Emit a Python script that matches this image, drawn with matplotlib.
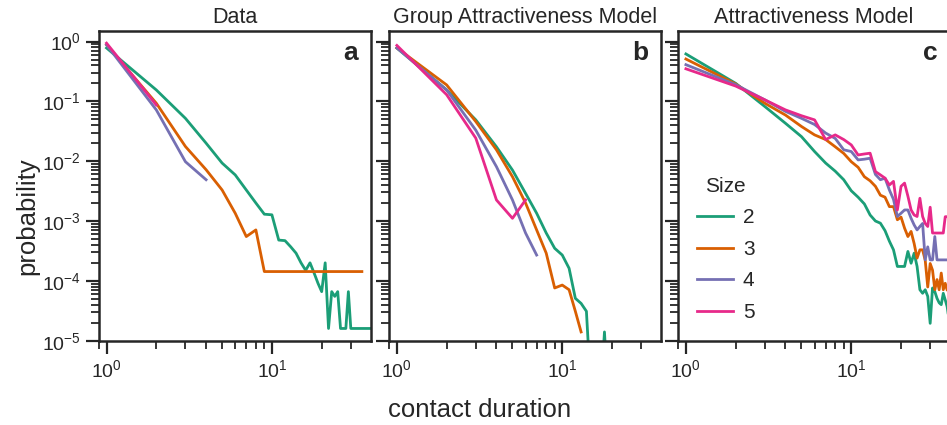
import matplotlib
matplotlib.use('Agg')
import matplotlib.pyplot as plt
from matplotlib.ticker import LogLocator, NullFormatter

plt.rcParams['font.family'] = ['Liberation Sans', 'DejaVu Sans']
plt.rcParams['text.color'] = '#262626'
plt.rcParams['axes.edgecolor'] = '#262626'
plt.rcParams['xtick.color'] = '#262626'
plt.rcParams['ytick.color'] = '#262626'

# group sizes and colours
sizes = [2, 3, 4, 5]
colors = ['#1b9e77', '#d95f02', '#7570b3', '#e7298a']

# panel a: data
data_2 = [0.78, 0.155, 0.052, 0.020, 0.0093, 0.0059, 0.0033, 0.0020, 0.0013, 0.00127,
          0.00048, 0.00047, 0.00037, 0.00029, 0.00020, 0.00015, 0.00020, 0.000135, 0.000091, 0.000066,
          0.00020, 1.6e-5, 6.6e-5, 5.5e-5, 6.6e-5, 1.6e-5, 1.6e-5, 1.6e-5, 6.6e-5, 1.6e-5,
          1.6e-5, 1.6e-5, 1.6e-5, 1.6e-5, 1.6e-5, 1.6e-5, 1.6e-5, 1.6e-5, 1.6e-5]
data_3 = [0.88, 0.093, 0.0176, 0.0072, 0.0033, 0.00135, 0.00055, 0.00071] + [0.000143] * 27
data_4 = [0.88, 0.072, 0.0098, 0.0049]
data_5 = [0.94, 0.087]

# panel b: group attractiveness model
gam_2 = [0.78, 0.155, 0.049, 0.0174, 0.0071, 0.0029, 0.00135, 0.00063, 0.00035, 0.00027,
         0.000162, 5.1e-5, 4.2e-5, 3.1e-5, 1e-6, 1e-6, 1e-6, 1.4e-5, 1e-6]
gam_3 = [0.78, 0.188, 0.046, 0.0155, 0.0055, 0.002, 0.00071, 0.00029, 7.6e-5, 8.5e-5,
         7.1e-5, 3.1e-5, 1.4e-5]
gam_4 = [0.78, 0.155, 0.033, 0.0081, 0.00225, 0.00063, 0.00027]
gam_5 = [0.86, 0.129, 0.0243, 0.00225, 0.00111, 0.00225]

# panel c: attractiveness model
am_2 = [0.62, 0.20, 0.082, 0.043, 0.0257, 0.0145, 0.0093, 0.0068, 0.0049, 0.0032,
        0.0025, 0.00193, 0.00126, 0.001, 0.00092, 0.00069, 0.00046, 0.00033, 0.000174, 0.000174,
        0.000174, 0.00031, 0.000197, 0.00029, 0.000174, 7.1e-5, 6.2e-5, 7.1e-5, 5.5e-5, 1.95e-5,
        7.6e-5, 6.6e-5, 5.1e-5, 4.3e-5, 4e-5, 6.2e-5, 4.8e-5, 3.7e-5, 2.2e-5, 2.5e-5]
am_3 = [0.51, 0.195, 0.093, 0.059, 0.038, 0.0275, 0.023, 0.0174, 0.0135, 0.0098,
        0.0079, 0.0055, 0.0047, 0.0038, 0.0027, 0.0025, 0.00174, 0.00174, 0.00105, 0.00116,
        0.00076, 0.00055, 0.00067, 0.00042, 0.00024, 0.00033, 0.00033, 0.00022, 7.9e-5, 0.000195,
        0.000151, 7.1e-5, 0.000105, 7.1e-5, 0.000135, 7.1e-5, 9.1e-5, 7e-5, 7e-5]
am_4 = [0.41, 0.19, 0.106, 0.068, 0.052, 0.041, 0.0295, 0.024, 0.0155, 0.0145,
        0.0105, 0.0108, 0.0112, 0.006, 0.0049, 0.0052, 0.0033, 0.0023, 0.00119, 0.00135,
        0.00153, 0.00153, 0.00111, 0.00086, 0.00071, 0.00081, 0.00091, 0.000224, 0.00037, 0.000224,
        0.000224, 0.00055, 0.000224, 0.000224, 0.000224, 0.000224, 0.000224, 0.000224, 0.000224, 0.000224]
am_5 = [0.35, 0.18, 0.106, 0.072, 0.0575, 0.049, 0.023, 0.0275, 0.023, 0.0187,
        0.0127, 0.0132, 0.0136, 0.0067, 0.0059, 0.0052, 0.004, 0.0046, 0.00153, 0.0038,
        0.0043, 0.0026, 0.00153, 0.00126, 0.00119, 0.0024, 0.00119, 0.00091, 0.00081, 0.0017,
        0.00063, 0.00063, 0.00063, 0.00063, 0.00063, 0.00063, 0.00118, 0.00118, 0.00118, 0.00118]

panels = [
    ('Data', 'a', [data_2, data_3, data_4, data_5]),
    ('Group Attractiveness Model', 'b', [gam_2, gam_3, gam_4, gam_5]),
    ('Attractiveness Model', 'c', [am_2, am_3, am_4, am_5]),
]

fig = plt.figure(figsize=(9.47, 4.25), dpi=100)
lefts = [0.1045, 0.4111, 0.7163]
axes = []
for i, (title, letter, series) in enumerate(panels):
    ax = fig.add_axes([lefts[i], 0.1984, 0.2868, 0.7287])
    for s, vals, c in zip(sizes, series, colors):
        x = list(range(1, len(vals) + 1))
        ax.plot(x, vals, color=c, lw=2, label=str(s))
    ax.set_xscale('log')
    ax.set_yscale('log')
    ax.set_xlim(0.9, 39.5)
    ax.set_ylim(1e-5, 1.5)
    ax.xaxis.set_major_locator(LogLocator(base=10, numticks=10))
    ax.xaxis.set_minor_locator(LogLocator(base=10, subs=range(2, 10), numticks=20))
    ax.xaxis.set_minor_formatter(NullFormatter())
    ax.yaxis.set_major_locator(LogLocator(base=10, numticks=10))
    ax.yaxis.set_minor_locator(LogLocator(base=10, subs=range(2, 10), numticks=20))
    ax.yaxis.set_minor_formatter(NullFormatter())
    ax.tick_params(which='major', length=9.5, width=1.6, labelsize=14, direction='out')
    ax.tick_params(which='minor', length=6, width=1.3, direction='out')
    if i > 0:
        ax.tick_params(axis='y', labelleft=False)
    for sp in ax.spines.values():
        sp.set_linewidth(1.8)
    ax.set_title(title, fontsize=15.5, pad=6)
    ax.text(0.955, 0.906, letter, transform=ax.transAxes, ha='right', va='baseline',
            fontsize=19, fontweight='bold')
    axes.append(ax)

leg = axes[2].legend(title='Size', loc='lower left', bbox_to_anchor=(0.0, 0.0),
                     frameon=False, fontsize=15, title_fontsize=15,
                     handlelength=1.7, handletextpad=0.5, labelspacing=0.6)

fig.text(0.0285, 0.492, 'probability', rotation=90, ha='center', va='center', fontsize=18.5)
fig.text(0.506, 0.0195, 'contact duration', ha='center', va='baseline', fontsize=18.5)

fig.savefig('out.png', dpi=100)
